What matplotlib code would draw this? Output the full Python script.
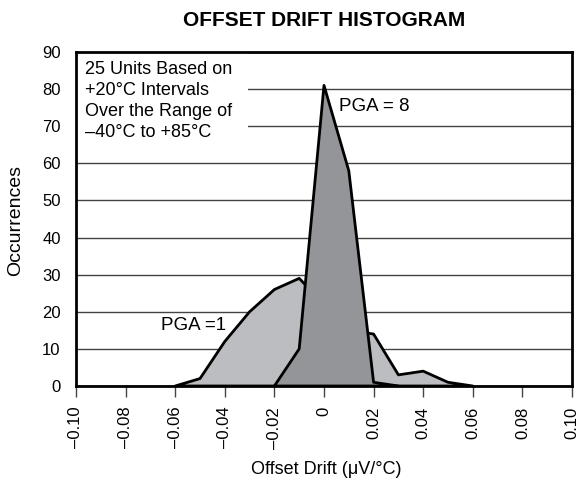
import matplotlib

matplotlib.use('Agg')
import matplotlib.pyplot as plt
from matplotlib.patches import Rectangle

plt.rcParams['font.family'] = ['Liberation Sans', 'DejaVu Sans']

# offset drift bins (uV/degC)
DRIFT_PGA1 = [-0.06, -0.05, -0.04, -0.03, -0.02, -0.01, 0.0, 0.01, 0.02, 0.03, 0.04, 0.05, 0.06]
COUNT_PGA1 = [0, 2, 12, 20, 26, 29, 22, 15, 14, 3, 4, 1, 0]

DRIFT_PGA8 = [-0.02, -0.01, 0.0, 0.01, 0.02, 0.03]
COUNT_PGA8 = [0, 10, 81, 58, 1, 0]

X_TICKS = [-0.10, -0.08, -0.06, -0.04, -0.02, 0.0, 0.02, 0.04, 0.06, 0.08, 0.10]
X_TICK_LABELS = ['–0.10', '–0.08', '–0.06', '–0.04', '–0.02', '0',
                 '0.02', '0.04', '0.06', '0.08', '0.10']
Y_TICKS = list(range(0, 100, 10))

NOTE = '25 Units Based on\n+20°C Intervals\nOver the Range of\n–40°C to +85°C'

LIGHT = '#bcbdc0'
DARK = '#939598'

fig = plt.figure(figsize=(5.81, 4.87), dpi=100)
ax = fig.add_axes([76 / 581, 1 - 386 / 487, 496 / 581, 334 / 487])

# closed polygons along the baseline
ax.fill(DRIFT_PGA1, COUNT_PGA1, facecolor=LIGHT, edgecolor='black',
        linewidth=2, joinstyle='round', zorder=3)
ax.fill(DRIFT_PGA8, COUNT_PGA8, facecolor=DARK, edgecolor='black',
        linewidth=2, joinstyle='round', zorder=4)

ax.set_xlim(-0.10, 0.10)
ax.set_ylim(0, 90)
ax.set_xticks(X_TICKS)
ax.set_xticklabels(X_TICK_LABELS, rotation=90, fontsize=12)
ax.set_yticks(Y_TICKS)
ax.tick_params(axis='y', length=0, pad=11, labelsize=12)
ax.tick_params(axis='x', length=8, width=1, color='#444444', pad=7)

ax.yaxis.grid(True, color='#444444', linewidth=1)
ax.set_axisbelow(True)
for spine in ax.spines.values():
    spine.set_linewidth(2)
    spine.set_zorder(6)

# white mask behind the note, hides the grid lines there
ax.add_patch(Rectangle((0, 0.705), 0.347, 0.295, transform=ax.transAxes,
                       facecolor='white', edgecolor='none', zorder=2))
ax.text(0.018, 0.972, NOTE, transform=ax.transAxes, ha='left', va='top',
        fontsize=13, linespacing=1.3, zorder=5)

ax.text(0.0062, 75.2, 'PGA = 8', fontsize=13.5, va='center', zorder=5)
ax.text(-0.0656, 16.2, 'PGA =1', fontsize=13.5, va='center', zorder=5)

fig.text(324 / 581, 1 - 20 / 487, 'OFFSET DRIFT HISTOGRAM', ha='center',
         va='center', fontsize=15, fontweight='bold')
fig.text(326 / 581, 1 - 469 / 487, 'Offset Drift (μV/°C)', ha='center',
         va='center', fontsize=13)
fig.text(16 / 581, 1 - 221 / 487, 'Occurrences', ha='center', va='center',
         rotation=90, fontsize=14)

fig.savefig('out.png', dpi=100)
